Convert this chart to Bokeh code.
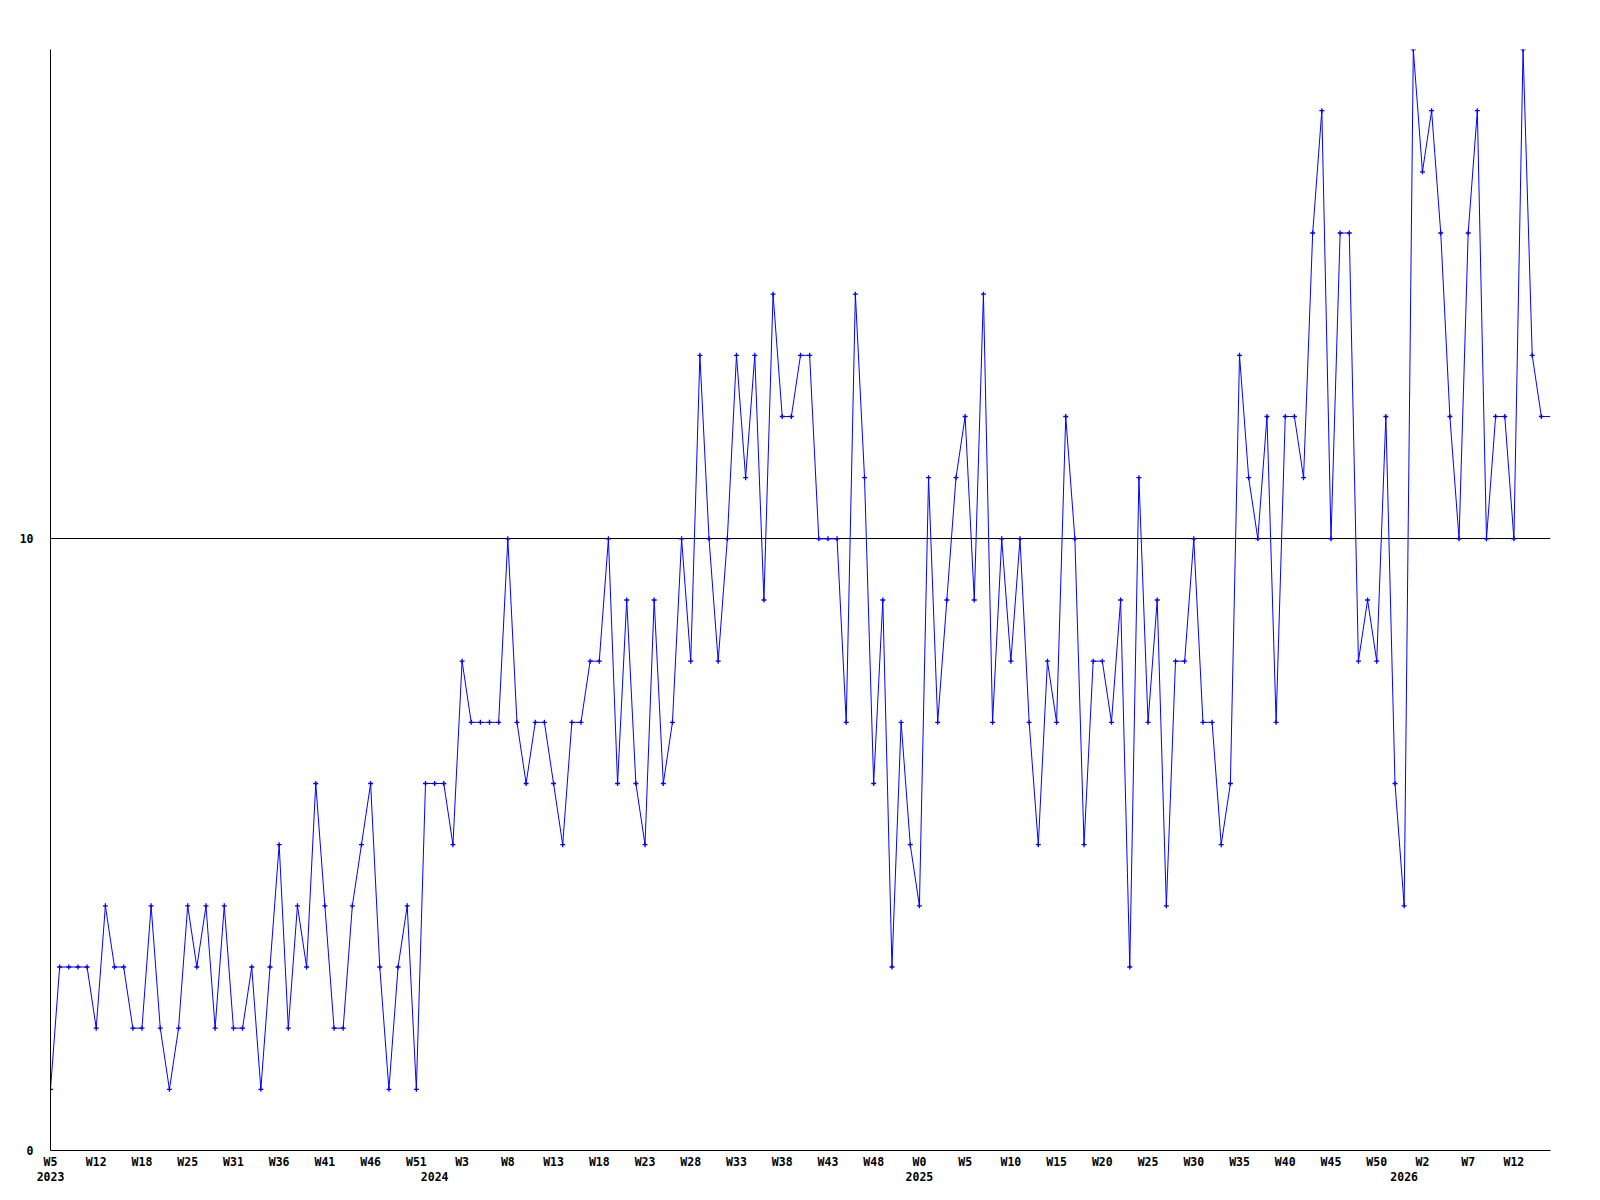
from bokeh.plotting import figure
from bokeh.models import LinearAxis, FixedTicker, Range1d
from bokeh.embed import file_html
from bokeh.resources import INLINE

# Weekly values (one per week, index-based x axis)
values = [
    1, 3, 3, 3, 3, 2, 4, 3, 3, 2, 2, 4, 2, 1, 2, 4, 3, 4, 2, 4, 2,
    2, 3, 1, 3, 5, 2, 4, 3, 6, 4, 2, 2, 4, 5, 6, 3, 1, 3, 4, 1, 6,
    6, 6, 5, 8, 7, 7, 7, 7, 10, 7, 6, 7, 7, 6, 5, 7, 7, 8, 8, 10, 6,
    9, 6, 5, 9, 6, 7, 10, 8, 13, 10, 8, 10, 13, 11, 13, 9, 14, 12, 12, 13, 13,
    10, 10, 10, 7, 14, 11, 6, 9, 3, 7, 5, 4, 11, 7, 9, 11, 12, 9, 14, 7,
    10, 8, 10, 7, 5, 8, 7, 12, 10, 5, 8, 8, 7, 9, 3, 11, 7, 9, 4, 8, 8,
    10, 7, 7, 5, 6, 13, 11, 10, 12, 7, 12, 12, 11, 15, 17, 10, 15, 15, 8, 9, 8,
    12, 6, 4, 18, 16, 17, 15, 12, 10, 15, 17, 10, 12, 12, 10, 18, 13, 12,
    12,
]
idx = list(range(len(values)))

week_tick_idx = list(range(0, 161, 5))
week_tick_labels = ["W5", "W12", "W18", "W25", "W31", "W36", "W41", "W46", "W51",
                    "W3", "W8", "W13", "W18", "W23", "W28", "W33", "W38", "W43", "W48",
                    "W0", "W5", "W10", "W15", "W20", "W25", "W30", "W35", "W40", "W45", "W50",
                    "W2", "W7", "W12"]
year_tick_idx = [0, 42, 95, 148]
year_tick_labels = ["2023", "2024", "2025", "2026"]
y_ticks = [0, 10]

FONT = "DejaVu Sans Mono"
FS = "11.5px"

p = figure(frame_width=1500, frame_height=1101,
           x_range=Range1d(0, len(values) - 1), y_range=Range1d(0, 18),
           output_backend="svg", toolbar_location=None,
           min_border_left=50, min_border_top=49, min_border_right=30, min_border_bottom=5)
p.outline_line_color = None
p.background_fill_color = "white"
p.border_fill_color = "white"

p.xgrid.visible = False
p.ygrid.grid_line_color = "black"
p.ygrid.grid_line_alpha = 1.0
p.ygrid.grid_line_width = 1

# y axis
p.yaxis.ticker = FixedTicker(ticks=y_ticks)
p.yaxis.major_tick_out = 0
p.yaxis.major_tick_in = 0
p.yaxis.minor_tick_line_color = None
p.yaxis.axis_line_color = "black"
p.yaxis.major_label_text_font = FONT
p.yaxis.major_label_text_font_style = "bold"
p.yaxis.major_label_text_font_size = FS
p.yaxis.major_label_text_color = "black"
p.yaxis.major_label_standoff = 17

# x axis (weeks)
p.xaxis.ticker = FixedTicker(ticks=week_tick_idx)
p.xaxis.major_label_overrides = {i: s for i, s in zip(week_tick_idx, week_tick_labels)}
p.xaxis.major_tick_out = 0
p.xaxis.major_tick_in = 0
p.xaxis.minor_tick_line_color = None
p.xaxis.axis_line_color = "black"
p.xaxis.major_label_text_font = FONT
p.xaxis.major_label_text_font_style = "bold"
p.xaxis.major_label_text_font_size = FS
p.xaxis.major_label_text_color = "black"
p.xaxis.major_label_standoff = 4

# second x axis (years)
yax = LinearAxis(ticker=FixedTicker(ticks=year_tick_idx),
                 major_label_overrides={i: s for i, s in zip(year_tick_idx, year_tick_labels)})
yax.axis_line_color = None
yax.major_tick_out = 0
yax.major_tick_in = 0
yax.minor_tick_line_color = None
yax.major_label_text_font = FONT
yax.major_label_text_font_style = "bold"
yax.major_label_text_font_size = FS
yax.major_label_text_color = "black"
yax.major_label_standoff = 0
p.add_layout(yax, "below")

p.line(idx, values, line_color="#0000ff", line_width=1)
p.scatter(idx[:-1], values[:-1], marker="cross", size=5, line_color="#0000ff", line_width=1.3)

open("out.html", "w").write(file_html(p, INLINE))
